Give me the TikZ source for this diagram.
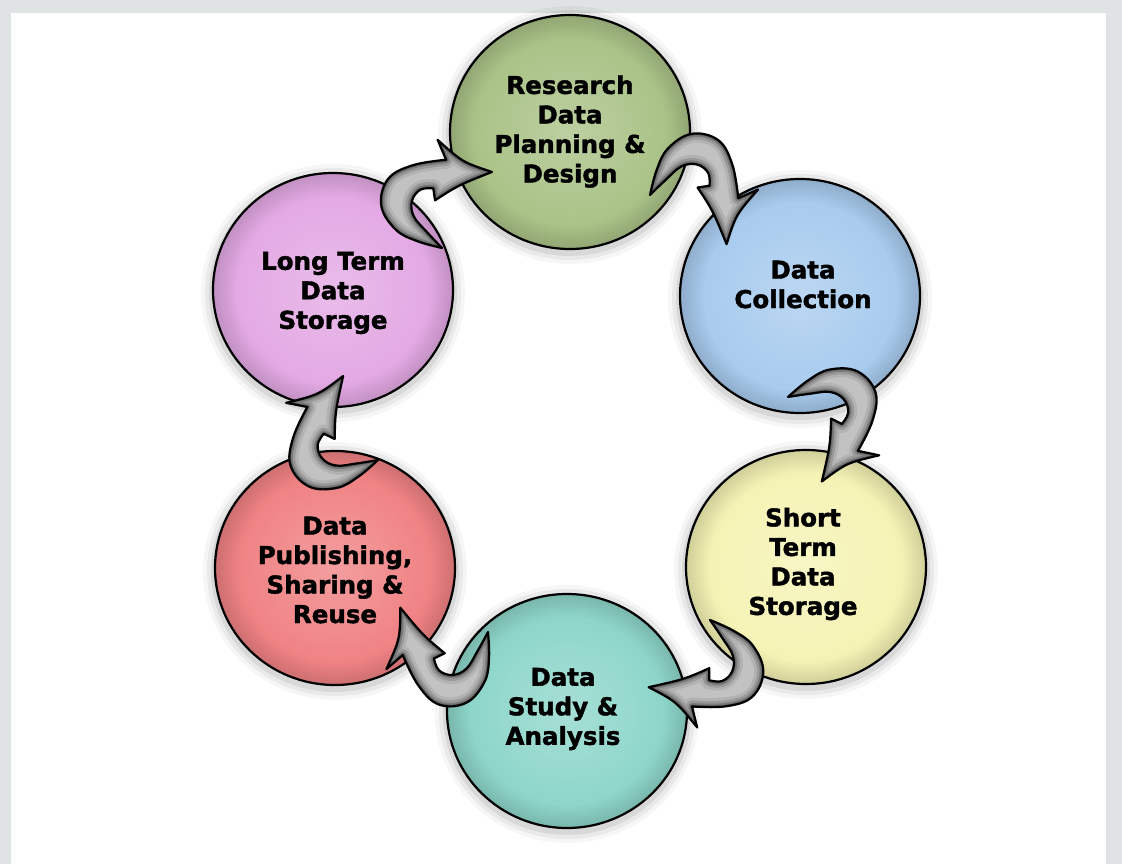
\documentclass[tikz,border=0pt]{standalone}
\usepackage{fontspec}
\setmainfont{DejaVu Sans}[BoldFeatures={FakeBold=1.6}]
\usetikzlibrary{shapes.geometric}
\definecolor{cBg}{RGB}{223,227,227}
\definecolor{cG}{RGB}{170,194,135}
\definecolor{cB}{RGB}{168,203,238}
\definecolor{cY}{RGB}{245,243,180}
\definecolor{cT}{RGB}{142,214,202}
\definecolor{cR}{RGB}{240,130,132}
\definecolor{cP}{RGB}{227,169,228}
\newcommand\MkShade[1]{%
  \colorlet{#1a}{#1!78!white}\colorlet{#1b}{#1!90!white}\colorlet{#1c}{#1}\colorlet{#1d}{#1!85!black}%
  \pgfdeclareradialshading{sh#1}{\pgfpoint{0bp}{0bp}}{color(0bp)=(#1a); color(11bp)=(#1b); color(20bp)=(#1c); color(25bp)=(#1d); color(50bp)=(#1d)}}
\MkShade{cG}\MkShade{cB}\MkShade{cY}\MkShade{cT}\MkShade{cR}\MkShade{cP}
\def\ArrowShape{(0,0) -- plot[smooth,tension=0.65] coordinates {(0,0) (-8,-25) (-10,-49) (2,-74) (28,-83) (53,-70) (76,-45)} -- (88,-63) .. controls (83,-30) .. (91,0) .. controls (61,-21) .. (36,-32) -- (45,-40) -- plot[smooth,tension=0.65] coordinates {(45,-40) (37,-50) (23,-51) (11,-41) (5,-21) (0,0)} -- cycle}
\begin{document}
\begin{tikzpicture}[x=1pt,y=-1pt,
  bubble/.style={ellipse, draw=black, line width=2.2pt, minimum width=240pt, minimum height=234pt, inner sep=0pt, shade, shading=#1},
  lbl/.style={font=\fontsize{24.5}{29.5}\selectfont\bfseries, align=center, inner sep=0pt, text=black},
  pics/cyclearrow/.style={code={
    \fill[black!24] \ArrowShape;
    \begin{scope}
      \clip \ArrowShape;
      \draw[black!30, line width=18pt, line join=round] \ArrowShape;
      \draw[black!40, line width=12pt, line join=round] \ArrowShape;
      \draw[black!52, line width=7pt, line join=round] \ArrowShape;
      \draw[black!65, line width=3.5pt, line join=round] \ArrowShape;
    \end{scope}
    \draw[black, line width=2.2pt, line join=round] \ArrowShape;
  }}]
\useasboundingbox (0,0) rectangle (1122,864);
\fill[cBg] (0,0) rectangle (1122,864);
\fill[white] (11,13) rectangle (1106,864);
% soft shadows
\foreach \cx/\cy in {570/132, 800/296, 806/567, 567/711, 335/568, 333/290}{
  \foreach \r/\o in {12/0.035, 8/0.05, 4/0.07}{
    \fill[black, opacity=\o] (\cx,\cy+3) ellipse [x radius=120+\r, y radius=117+\r];
  }
}
% bubbles
\node[bubble=shcG] (plan)    at (570,132) {};
\node[bubble=shcB] (collect) at (800,296) {};
\node[bubble=shcY] (short)   at (806,567) {};
\node[bubble=shcT] (study)   at (567,711) {};
\node[bubble=shcR] (publish) at (335,568) {};
\node[bubble=shcP] (long)    at (333,290) {};
% labels
\node[lbl] (plan-t)    at (570,131.5) {Research\\Data\\Planning \&\\Design};
\node[lbl] (collect-t) at (803,284.5) {Data\\Collection};
\node[lbl] (short-t)   at (803,564) {Short\\Term\\Data\\Storage};
\node[lbl] (study-t)   at (563,709) {Data\\Study \&\\Analysis};
\node[lbl] (publish-t) at (335,570) {Data\\Publishing,\\Sharing \&\\Reuse};
\node[lbl] (long-t)    at (333,293) {Long Term\\Data\\Storage};
% arrow tails
\coordinate (a1) at (442,248);
\coordinate (a2) at (650,195);
\coordinate (a3) at (788,397);
\coordinate (a4) at (710,620);
\coordinate (a5) at (488,632);
\coordinate (a6) at (378,460);
\pic[rotate=56.7]   at (a1) {cyclearrow};
\pic[rotate=-32.7]  at (a2) {cyclearrow};
\pic[rotate=-68.2]  at (a3) {cyclearrow};
\pic[rotate=-132.4] at (a4) {cyclearrow};
\pic[rotate=-195.5] at (a5) {cyclearrow};
\pic[rotate=-247.5] at (a6) {cyclearrow};
\end{tikzpicture}
\end{document}
